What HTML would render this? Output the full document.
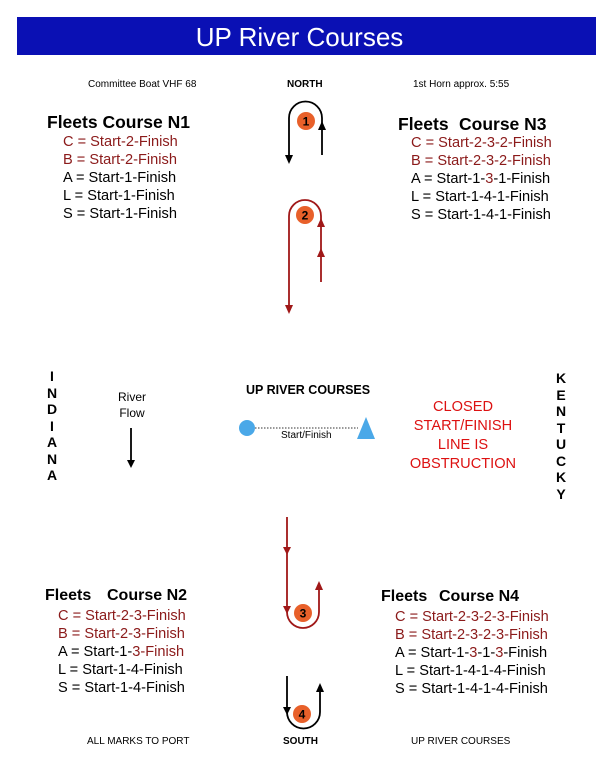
<!DOCTYPE html>
<html><head><meta charset="utf-8"><style>
body{margin:0;width:610px;height:767px;background:#fff;position:relative;font-family:"Liberation Sans",Arial,sans-serif;overflow:hidden}
.a{position:absolute;white-space:nowrap}
.r{color:#8b1a1a}
.h{font-weight:bold;font-size:17.5px}
.h2{font-weight:bold;font-size:16px}
.l{font-size:14.6px;line-height:18px}
.s{font-size:10px}
.v{font-weight:bold;font-size:14px;line-height:16.5px;text-align:center;width:14px}
</style></head><body>
<div class="a" style="left:17px;top:17px;width:565px;height:38px;background:#0a10b4;color:#fff;font-size:26px;text-align:center;line-height:40px;padding-right:14px">UP River Courses</div>
<div class="a s" style="left:88px;top:79px">Committee Boat VHF 68</div>
<div class="a s" style="left:287px;top:79px;font-weight:bold">NORTH</div>
<div class="a s" style="left:413px;top:79px">1st Horn approx. 5:55</div>

<div class="a h" style="left:47px;top:112px">Fleets Course N1</div>
<div class="a l" style="left:63px;top:133px"><span class="r">C = Start-2-Finish</span><br><span class="r">B = Start-2-Finish</span><br>A = Start-1-Finish<br>L = Start-1-Finish<br>S = Start-1-Finish</div>

<div class="a h" style="left:398px;top:114px">Fleets</div><div class="a h" style="left:459px;top:114px">Course N3</div>
<div class="a l" style="left:411px;top:134px"><span class="r">C = Start-2-3-2-Finish</span><br><span class="r">B = Start-2-3-2-Finish</span><br>A = Start-1-<span class="r">3</span>-1-Finish<br>L = Start-1-4-1-Finish<br>S = Start-1-4-1-Finish</div>

<div class="a h2" style="left:45px;top:587px">Fleets</div><div class="a h2" style="left:107px;top:587px">Course N2</div>
<div class="a l" style="left:58px;top:607px"><span class="r">C = Start-2-3-Finish</span><br><span class="r">B = Start-2-3-Finish</span><br>A = Start-1-<span class="r">3-Finish</span><br>L = Start-1-4-Finish<br>S = Start-1-4-Finish</div>

<div class="a h2" style="left:381px;top:588px">Fleets</div><div class="a h2" style="left:439px;top:588px">Course N4</div>
<div class="a l" style="left:395px;top:608px"><span class="r">C = Start-2-3-2-3-Finish</span><br><span class="r">B = Start-2-3-2-3-Finish</span><br>A = Start-1-<span class="r">3</span>-1-<span class="r">3</span>-Finish<br>L = Start-1-4-1-4-Finish<br>S = Start-1-4-1-4-Finish</div>

<div class="a v" style="left:45px;top:368px">I<br>N<br>D<br>I<br>A<br>N<br>A</div>
<div class="a v" style="left:554px;top:370px">K<br>E<br>N<br>T<br>U<br>C<br>K<br>Y</div>
<div class="a" style="left:102px;top:389px;font-size:12px;text-align:center;width:60px;line-height:16px">River<br>Flow</div>
<div class="a" style="left:246px;top:383px;font-size:12.5px;font-weight:bold">UP RIVER COURSES</div>
<div class="a s" style="left:281px;top:430px">Start/Finish</div>
<div class="a" style="left:403px;top:398px;font-size:14.6px;text-align:center;width:120px;line-height:19px;color:#d11">CLOSED<br>START/FINISH<br>LINE IS<br>OBSTRUCTION</div>
<div class="a s" style="left:87px;top:736px">ALL MARKS TO PORT</div>
<div class="a s" style="left:283px;top:736px;font-weight:bold">SOUTH</div>
<div class="a s" style="left:411px;top:736px">UP RIVER COURSES</div>

<svg class="a" style="left:0;top:0" width="610" height="767">
<g fill="none" stroke-width="1.8">
<path d="M289,158 V118 A16.5,16.5 0 0 1 322,118 V155" stroke="#000"/>
<path d="M289,306 V216 A16,16 0 0 1 321,216 V282" stroke="#a01818"/>
<path d="M287,517 V612 A16,16 0 0 0 319,612 V587" stroke="#a01818"/>
<path d="M287,676 V712 A16.5,16.5 0 0 0 320,712 V689" stroke="#000"/>
<line x1="131" y1="428" x2="131" y2="462" stroke="#000"/>
<line x1="255" y1="428" x2="358" y2="428" stroke="#333" stroke-width="1" stroke-dasharray="1.5,1.5"/>
</g>
<g>
<path d="M285,155 h8 l-4,9z"/>
<path d="M318,130 h8 l-4,-9z"/>
<path d="M285,305 h8 l-4,9z" fill="#a01818"/>
<path d="M317,227 h8 l-4,-9z" fill="#a01818"/>
<path d="M317,257 h8 l-4,-9z" fill="#a01818"/>
<path d="M283,547 h8 l-4,8z" fill="#a01818"/>
<path d="M283,606 h8 l-4,8z" fill="#a01818"/>
<path d="M315,590 h8 l-4,-9z" fill="#a01818"/>
<path d="M283,707 h8 l-4,8z"/>
<path d="M316,692 h8 l-4,-9z"/>
<path d="M127,460 h8 l-4,8z"/>
</g>
<circle cx="247" cy="428" r="8" fill="#4aa8e8"/>
<path d="M366,417 L375,439 H357z" fill="#4aa8e8"/>
<g font-family="Liberation Sans,Arial,sans-serif" font-weight="bold" font-size="12" text-anchor="middle">
<circle cx="306" cy="121" r="9" fill="#e8602a"/><text x="306" y="125.5">1</text>
<circle cx="305" cy="215" r="9" fill="#e8602a"/><text x="305" y="219.5">2</text>
<circle cx="303" cy="613" r="9" fill="#e8602a"/><text x="303" y="617.5">3</text>
<circle cx="302" cy="714" r="9" fill="#e8602a"/><text x="302" y="718.5">4</text>
</g>
</svg>
</body></html>
